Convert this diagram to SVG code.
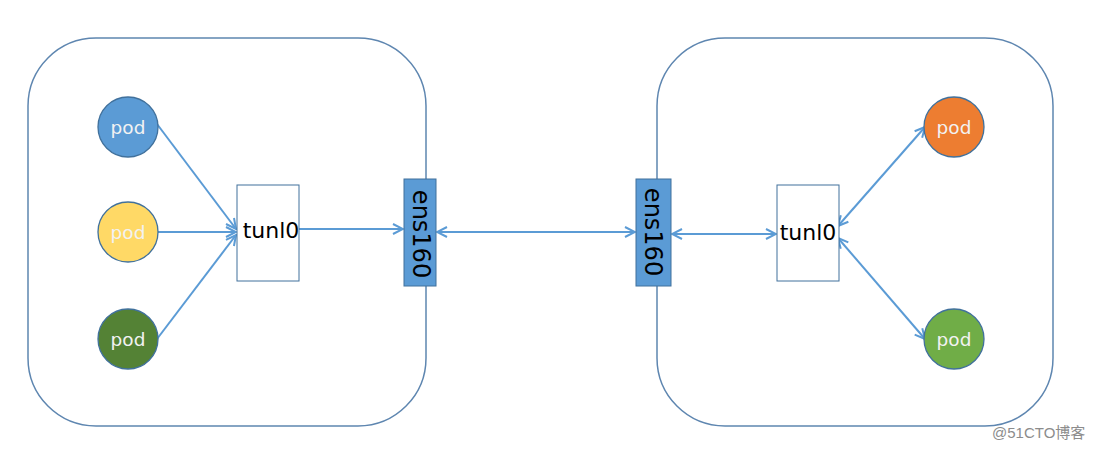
<svg xmlns="http://www.w3.org/2000/svg" width="1100" height="450" viewBox="0 0 1100 450">
<defs>
<marker id="ah" viewBox="0 0 12 12" refX="11" refY="6" markerWidth="12" markerHeight="12" markerUnits="userSpaceOnUse" orient="auto-start-reverse">
<path d="M1,1 L11,6 L1,11" fill="none" stroke="#5b9bd5" stroke-width="2"/>
</marker>
<style>
.host{fill:#fff;stroke:#5e86b0;stroke-width:1.5}
.pod{stroke:#41719c;stroke-width:1.3}
.podt{font-family:"DejaVu Sans",sans-serif;font-size:18.5px;fill:#f2f2f2;text-anchor:middle;dominant-baseline:central}
.tun{fill:#fff;stroke:#41719c;stroke-width:1}
.tunt{font-family:"DejaVu Sans",sans-serif;font-size:22px;fill:#000;text-anchor:middle}
.ens{fill:#5b9bd5;stroke:#41719c;stroke-width:1}
.enst{font-family:"DejaVu Sans",sans-serif;font-size:24px;fill:#000;text-anchor:middle;dominant-baseline:central}
.c{stroke:#5b9bd5;stroke-width:2;fill:none}
</style>
</defs>
<rect width="1100" height="450" fill="#fff"/>
<g id="host-left"><rect class="host" x="28" y="38" width="398" height="388" rx="68" ry="68"/></g>
<g id="host-right"><rect class="host" x="657" y="38" width="396" height="388" rx="68" ry="68"/></g>
<g id="connectors">
<line class="c" x1="157" y1="124" x2="236" y2="229" marker-end="url(#ah)"/>
<line class="c" x1="158" y1="232" x2="236" y2="232" marker-end="url(#ah)"/>
<line class="c" x1="157" y1="339" x2="236" y2="235" marker-end="url(#ah)"/>
<line class="c" x1="299" y1="229" x2="403" y2="229" marker-end="url(#ah)"/>
<line class="c" x1="437" y1="232" x2="635" y2="232" marker-start="url(#ah)" marker-end="url(#ah)"/>
<line class="c" x1="672" y1="234" x2="776" y2="234" marker-start="url(#ah)" marker-end="url(#ah)"/>
<line class="c" x1="838" y1="226" x2="925" y2="127" marker-start="url(#ah)" marker-end="url(#ah)"/>
<line class="c" x1="838" y1="238" x2="925" y2="339" marker-start="url(#ah)" marker-end="url(#ah)"/>
</g>
<g id="pod-blue"><circle class="pod" cx="128" cy="127" r="30" fill="#5b9bd5"/><text class="podt" x="128" y="127">pod</text></g>
<g id="pod-yellow"><circle class="pod" cx="128" cy="232" r="30" fill="#ffd966"/><text class="podt" x="128" y="232">pod</text></g>
<g id="pod-darkgreen"><circle class="pod" cx="128" cy="339" r="30" fill="#548235"/><text class="podt" x="128" y="339">pod</text></g>
<g id="tunl0-left"><rect class="tun" x="237" y="185" width="62" height="96"/><text class="tunt" x="271" y="238">tunl0</text></g>
<g id="ens160-left"><rect class="ens" x="404" y="179" width="32" height="107"/><text class="enst" transform="translate(421,234) rotate(90)">ens160</text></g>
<g id="ens160-right"><rect class="ens" x="636" y="179" width="35" height="107"/><text class="enst" transform="translate(653,232) rotate(90)">ens160</text></g>
<g id="tunl0-right"><rect class="tun" x="777" y="185" width="62" height="96"/><text class="tunt" x="808" y="240">tunl0</text></g>
<g id="pod-orange"><circle class="pod" cx="954" cy="127" r="30" fill="#ed7d31"/><text class="podt" x="954" y="127">pod</text></g>
<g id="pod-green"><circle class="pod" cx="954" cy="339" r="30" fill="#70ad47"/><text class="podt" x="954" y="339">pod</text></g>
<text x="992" y="438" font-family="'Liberation Sans','Noto Sans CJK SC',sans-serif" font-size="15" fill="#8c8c8c">@51CTO博客</text>
</svg>
